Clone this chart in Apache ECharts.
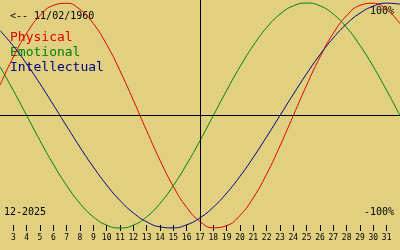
<!DOCTYPE html>
<html><head><meta charset="utf-8">
<script src="https://cdn.jsdelivr.net/npm/echarts@6/dist/echarts.min.js"></script>
<style>html,body{margin:0;padding:0;background:#e0d080}#c{width:400px;height:250px}</style>
</head><body><div id="c"></div>
<script>
var days = [2,3,4,5,6,7,8,9,10,11,12,13,14,15,16,17,18,19,20,21,22,23,24,25,26,27,28,29,30,31,32];
var physical = [0.270,0.520,0.731,0.888,0.979,0.998,0.942,0.817,0.631,0.398,0.136,-0.136,-0.398,-0.631,-0.817,-0.942,-0.998,-0.979,-0.888,-0.731,-0.520,-0.270,0,0.270,0.520,0.731,0.888,0.979,0.998,0.942,0.817];
var emotional = [0.434,0.223,0,-0.223,-0.434,-0.623,-0.782,-0.901,-0.975,-1,-0.975,-0.901,-0.782,-0.623,-0.434,-0.223,0,0.223,0.434,0.623,0.782,0.901,0.975,1,0.975,0.901,0.782,0.623,0.434,0.223,0];
var intellectual = [0.756,0.618,0.458,0.282,0.095,-0.095,-0.282,-0.458,-0.618,-0.756,-0.866,-0.945,-0.990,-0.999,-0.972,-0.910,-0.815,-0.690,-0.541,-0.372,-0.189,0,0.189,0.372,0.541,0.690,0.815,0.910,0.972,0.999,0.990];
var seriesNames = ['Physical','Emotional','Intellectual'];
var seriesColors = ['#e00000','#008000','#000080'];
var birthLabel = '<-- 11/02/1960';
var monthLabel = '12-2025';
var topLabel = '100%';
var bottomLabel = '-100%';
var today = 17;

function pairs(v){ return days.map(function(d,i){ return [d, v[i]]; }); }
var values = [physical, emotional, intellectual];
var mono = 'DejaVu Sans Mono';
var chart = echarts.init(document.getElementById('c'), null, {renderer:'canvas'});
var series = values.map(function(v,i){
  return {type:'line', name:seriesNames[i], data:pairs(v), smooth:true, showSymbol:false, symbol:'none',
    lineStyle:{color:seriesColors[i], width:1}, itemStyle:{color:seriesColors[i]}, silent:true, animation:false};
});
series.push({type:'line', data:[], silent:true, animation:false,
  markLine:{silent:true, symbol:'none', label:{show:false}, animation:false,
    lineStyle:{color:'#000', width:1, type:'solid'},
    data:[{xAxis:today},{yAxis:0}]}});
chart.setOption({
  backgroundColor:'#e0d080',
  animation:false,
  grid:{left:0,right:0,top:0,bottom:19},
  xAxis:{type:'value', min:2, max:32, interval:1,
    axisLine:{show:false, onZero:false},
    axisTick:{show:true, inside:true, length:6, lineStyle:{color:'#000'}},
    axisLabel:{show:true, margin:3, fontFamily:mono, fontSize:8, color:'#000', showMinLabel:false, showMaxLabel:false},
    splitLine:{show:false}},
  yAxis:{type:'value', min:-1.027, max:1.027, show:false, splitLine:{show:false}},
  series:series,
  graphic:[
    {type:'text', left:10, top:11, style:{text:birthLabel, font:'10px '+mono, fill:'#000'}},
    {type:'text', left:10, top:31, style:{text:seriesNames[0], font:'13px '+mono, fill:seriesColors[0]}},
    {type:'text', left:10, top:46, style:{text:seriesNames[1], font:'13px '+mono, fill:seriesColors[1]}},
    {type:'text', left:10, top:61, style:{text:seriesNames[2], font:'13px '+mono, fill:seriesColors[2]}},
    {type:'text', right:6, top:6, style:{text:topLabel, font:'10px '+mono, fill:'#000'}},
    {type:'text', right:6, top:207, style:{text:bottomLabel, font:'10px '+mono, fill:'#000'}},
    {type:'text', left:4, top:207, style:{text:monthLabel, font:'10px '+mono, fill:'#000'}}
  ]
});
</script></body></html>
